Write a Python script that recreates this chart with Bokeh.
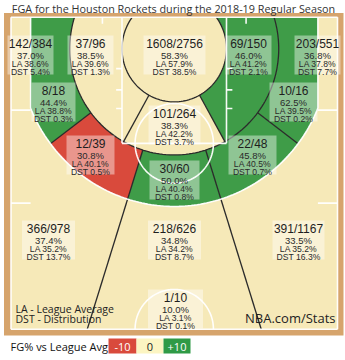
import numpy as np
from math import sin, cos, tan, atan2, sqrt, radians
from bokeh.plotting import figure
from bokeh.models import Range1d, ColumnDataSource
from bokeh.core.properties import value
from bokeh.embed import file_html
from bokeh.resources import INLINE

# ---------------- data ----------------
zones = ["Less Than 8 ft.", "8-16 ft. Left Side", "8-16 ft. Center", "8-16 ft. Right Side",
         "16-24 ft. Left Side", "16-24 ft. Left Side Center", "16-24 ft. Center",
         "16-24 ft. Right Side Center", "16-24 ft. Right Side",
         "Left Corner 3", "Left Wing 3", "Center 3", "Right Wing 3", "Right Corner 3", "Back Court"]
made = [1608, 37, 101, 69, 8, 12, 30, 22, 10, 142, 366, 218, 391, 203, 1]
attempts = [2756, 96, 264, 150, 18, 39, 60, 48, 16, 384, 978, 626, 1167, 551, 10]
fg_pct = [58.3, 38.5, 38.3, 46.0, 44.4, 30.8, 50.0, 45.8, 62.5, 37.0, 37.4, 34.8, 33.5, 36.8, 10.0]
league_avg = [57.9, 39.6, 42.2, 41.2, 38.8, 40.1, 40.4, 40.5, 39.5, 38.6, 35.2, 34.2, 35.2, 37.8, 3.1]
distribution = [38.5, 1.3, 3.7, 2.1, 0.3, 0.5, 0.8, 0.7, 0.2, 5.4, 13.7, 8.7, 16.3, 7.7, 0.1]
legend_ticks = ["-10", "0", "+10"]
title = "FGA for the Houston Rockets during the 2018-19 Regular Season"

# ---------------- layout (pixels of the picture) ----------------
X0, SX = 10.5, 0.653   # px of x=-250, px per court unit
Y0, SY = 16.7, 0.664   # px of y=-47.5 (baseline)
def px_x(px): return -250 + (px - X0) / SX
def px_y(py): return -47.5 + (py - Y0) / SY

# label box layout: (center x px, count-line y px, box width px)
label_layout = [(174, 43, 62), (90, 43, 46), (174, 113, 52), (248, 43, 46),
                (53, 90, 44), (90, 143, 48), (174, 168, 50), (252, 143, 48), (293, 90, 48),
                (30, 43, 46), (48, 228, 53), (174, 228, 53), (298, 228, 52), (317, 43, 46),
                (175, 297, 55)]

GREEN, RED, NEUTRAL = "#3f9c48", "#d94a3c", "#f6e9b8"
WOOD, BORDER = "#f4e4ae", "#d6a46c"

# ---------------- geometry helpers ----------------
R8, R16, R3, C3X = 80.0, 160.0, 237.5, 220.0
A_C = atan2(C3X, sqrt(R3**2 - C3X**2))

def r3(a):
    return R3 if abs(a) <= A_C else C3X / abs(sin(a))

def sector(rin, rout, a0, a1, n=90):
    angs = np.radians(np.linspace(a0, a1, n))
    outer = [(rout(a) * sin(a), rout(a) * cos(a)) for a in angs]
    inner = [(rin(a) * sin(a), rin(a) * cos(a)) for a in angs[::-1]]
    return outer + inner

def _inter(p, q, ax, v):
    t = (v - p[ax]) / (q[ax] - p[ax])
    return (p[0] + t * (q[0] - p[0]), p[1] + t * (q[1] - p[1]))

def clip_hp(pts, ax, v, greater):
    out = []
    for i in range(len(pts)):
        cur, prev = pts[i], pts[i - 1]
        cin = cur[ax] >= v if greater else cur[ax] <= v
        pin = prev[ax] >= v if greater else prev[ax] <= v
        if cin:
            if not pin:
                out.append(_inter(prev, cur, ax, v))
            out.append(cur)
        elif pin:
            out.append(_inter(prev, cur, ax, v))
    return out

def clip_court(pts):
    pts = clip_hp(pts, 0, -250, True)
    pts = clip_hp(pts, 0, 250, False)
    pts = clip_hp(pts, 1, -47.5, True)
    pts = clip_hp(pts, 1, 422.5, False)
    return pts

const = lambda r: (lambda a: r)
A_B, A_W, A_C2 = 29.0, 53.0, 17.5   # zone divider angles (deg from court axis)
yw = 92.5
a_w = np.degrees(atan2(sqrt(R3**2 - yw**2), yw))
xdiv = 422.5 * tan(radians(A_C2))

def wing3(sign):
    angs = np.radians(np.linspace(A_C2, a_w, 60)) * sign
    pts = [(R3 * sin(a), R3 * cos(a)) for a in angs]
    pts += [(250 * sign, yw), (250 * sign, 422.5), (xdiv * sign, 422.5)]
    return pts

def center3():
    angs = np.radians(np.linspace(-A_C2, A_C2, 60))
    pts = [(R3 * sin(a), R3 * cos(a)) for a in angs]
    pts += [(xdiv, 422.5), (-xdiv, 422.5)]
    return pts

polys = [
    clip_court(sector(const(0), const(R8), -180, 180, 181)),
    clip_court(sector(const(R8), const(R16), -130, -A_B)),
    clip_court(sector(const(R8), const(R16), -A_B, A_B)),
    clip_court(sector(const(R8), const(R16), A_B, 130)),
    clip_court(sector(const(R16), r3, -110, -A_W)),
    clip_court(sector(const(R16), r3, -A_W, -A_C2)),
    clip_court(sector(const(R16), r3, -A_C2, A_C2)),
    clip_court(sector(const(R16), r3, A_C2, A_W)),
    clip_court(sector(const(R16), r3, A_W, 110)),
    [(-250, -47.5), (-220, -47.5), (-220, yw), (-250, yw)],
    wing3(-1),
    center3(),
    wing3(1),
    [(250, -47.5), (220, -47.5), (220, yw), (250, yw)],
    None,
]

def zone_color(d):
    if d >= 4:
        return GREEN
    if d <= -4:
        return RED
    return NEUTRAL

# ---------------- figure ----------------
p = figure(width=345, height=360, x_range=Range1d(px_x(0), px_x(345)),
           y_range=Range1d(px_y(360), px_y(0)), output_backend="svg",
           toolbar_location=None, min_border=0, x_axis_location=None, y_axis_location=None)
p.grid.visible = False
p.outline_line_color = None
p.background_fill_color = "white"
p.border_fill_color = "white"

p.quad(left=px_x(3.5), right=px_x(343), top=px_y(12.5), bottom=px_y(335),
       fill_color=BORDER, line_color=None)
p.quad(left=-250, right=250, top=-47.5, bottom=422.5, fill_color=WOOD, line_color=None)

zx, zy, zc = [], [], []
for poly, fg, la in zip(polys, fg_pct, league_avg):
    if poly is None:
        continue
    zx.append([q[0] for q in poly])
    zy.append([q[1] for q in poly])
    zc.append(zone_color(fg - la))
p.patches(xs="xs", ys="ys", fill_color="c", line_color=None,
          source=ColumnDataSource(dict(xs=zx, ys=zy, c=zc)))

# dark zone borders
def arc_line(r, a0, a1, cx=0.0, cy=0.0, n=120, sgn=1):
    angs = np.radians(np.linspace(a0, a1, n))
    return [cx + r * sin(a) for a in angs], [cy + sgn * r * cos(a) for a in angs]

dx, dy = [], []
a80 = np.degrees(np.arccos(-47.5 / R8))
a160 = np.degrees(np.arccos(-47.5 / R16))
for (xs, ys) in [arc_line(R8, -a80, a80), arc_line(R16, -a160, a160)]:
    dx.append(xs); dy.append(ys)
for ang, r0, r1 in [(A_B, R8, R16), (-A_B, R8, R16), (A_W, R16, R3), (-A_W, R16, R3),
                    (A_C2, R16, 422.5 / cos(radians(A_C2))), (-A_C2, R16, 422.5 / cos(radians(A_C2)))]:
    a = radians(ang)
    dx.append([r0 * sin(a), r1 * sin(a)]); dy.append([r0 * cos(a), r1 * cos(a)])
p.multi_line(dx, dy, line_color="#2b2b2b", line_width=1.3)

# white court lines
wx, wy = [], []
def seg(x0, y0, x1, y1):
    wx.append([x0, x1]); wy.append([y0, y1])
seg(-250, -47.5, -250, 422.5); seg(250, -47.5, 250, 422.5)
seg(-250, -47.5, 250, -47.5); seg(-250, 422.5, 250, 422.5)
seg(-80, -47.5, -80, 142.5); seg(80, -47.5, 80, 142.5); seg(-80, 142.5, 80, 142.5)
seg(-220, -47.5, -220, sqrt(R3**2 - C3X**2)); seg(220, -47.5, 220, sqrt(R3**2 - C3X**2))
xs, ys = arc_line(R3, -np.degrees(A_C), np.degrees(A_C)); wx.append(xs); wy.append(ys)
xs, ys = arc_line(60, -180, 180, 0, 142.5); wx.append(xs); wy.append(ys)
xs, ys = arc_line(60, -90, 90, 0, 422.5, sgn=-1); wx.append(xs); wy.append(ys)
for s in (-1, 1):
    seg(110 * s, -47.5, 110 * s, -37.5)
    for yy in (30, 62, 90):
        seg(80 * s, yy, 89 * s, yy)
    for yy in (92.5, 232.5):
        seg(250 * s, yy, 220 * s, yy)
p.multi_line(wx, wy, line_color="white", line_width=1.6, line_alpha=0.95)

# label boxes and texts
bl, br, bt, bb = [], [], [], []
tx, ty, tt, ts, tcol = [], [], [], [], []
for (cx, cy, w), m, a, fg, la, d in zip(label_layout, made, attempts, fg_pct, league_avg, distribution):
    bl.append(px_x(cx - w / 2)); br.append(px_x(cx + w / 2))
    bt.append(px_y(cy - 8)); bb.append(px_y(min(cy + 31, 328.5)))
    for off, s, fs, col in [(0, f"{m}/{a}", "12px", "#1e1e1e"), (12, f"{fg:.1f}%", "9.5px", "#2a2a2a"),
                            (20, f"LA {la:.1f}%", "8.6px", "#2a2a2a"), (28, f"DST {d:.1f}%", "8.6px", "#2a2a2a")]:
        tx.append(px_x(cx)); ty.append(px_y(cy + off)); tt.append(s); ts.append(fs); tcol.append(col)
p.quad(left=bl, right=br, top=bt, bottom=bb, fill_color="white", fill_alpha=0.42, line_color=None)
p.text(x="x", y="y", text="t", text_font_size="fs", text_color="c",
       text_font=value("Liberation Sans"), text_align="center", text_baseline="middle",
       source=ColumnDataSource(dict(x=tx, y=ty, t=tt, fs=ts, c=tcol)))

# title and notes
p.text(x=[px_x(173)], y=[px_y(8)], text=[title], text_font=value("Open Sans"),
       text_font_size="10.8px", text_color="#333333", text_align="center", text_baseline="middle")
p.text(x=[px_x(15), px_x(15)], y=[px_y(308.5), px_y(318.5)],
       text=["LA - League Average", "DST - Distribution"], text_font=value("Open Sans"),
       text_font_size="10.5px", text_color="#222222", text_align="left", text_baseline="middle")
p.text(x=[px_x(335)], y=[px_y(317)], text=["NBA.com/Stats"], text_font=value("Open Sans"),
       text_font_size="13px", text_color="#222222", text_align="right", text_baseline="middle")

# bottom legend
lg_cols = [RED, "#fcf5c2", "#2f9a46"]
lg_txt_cols = ["white", "#222222", "white"]
lefts = [108, 136, 163]
rights = [136, 163, 190]
p.quad(left=[px_x(v) for v in lefts], right=[px_x(v) for v in rights],
       top=[px_y(338)] * 3, bottom=[px_y(353)] * 3, fill_color=lg_cols, line_color=None)
p.text(x=[px_x((l + r) / 2) for l, r in zip(lefts, rights)], y=[px_y(346)] * 3, text=legend_ticks,
       text_font=value("Open Sans"), text_font_size="11px", text_color=lg_txt_cols,
       text_align="center", text_baseline="middle")
p.text(x=[px_x(10)], y=[px_y(346)], text=["FG% vs League Avg"], text_font=value("Open Sans"),
       text_font_size="11px", text_color="#111111", text_align="left", text_baseline="middle")

open("out.html", "w").write(file_html(p, INLINE))
